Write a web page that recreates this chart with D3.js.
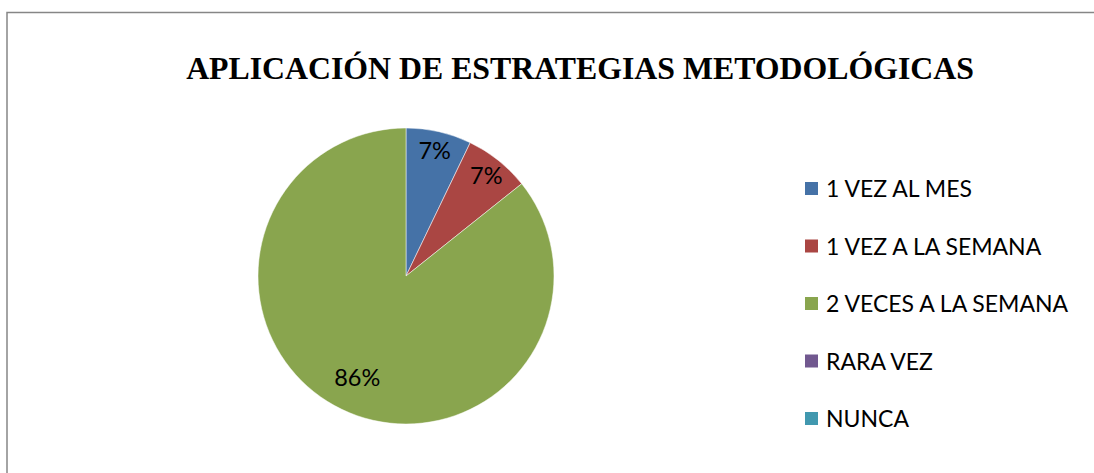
<!DOCTYPE html>
<html lang="es">
<head>
    <meta charset="UTF-8">
    <title>Aplicación de estrategias metodológicas</title>
    <script src="https://d3js.org/d3.v7.min.js"></script>
    <style>
        body { margin: 0; background: #fff; }
        svg { display: block; }
    </style>
</head>
<body>
    <script>
        // Data
        const categories = ["1 VEZ AL MES", "1 VEZ A LA SEMANA", "2 VECES A LA SEMANA", "RARA VEZ", "NUNCA"];
        const values = [1, 1, 12, 0, 0];
        const colors = ["#4572A7", "#AA4643", "#89A54E", "#71588F", "#4198AF"];
        const title = "APLICACIÓN DE ESTRATEGIAS METODOLÓGICAS";

        const W = 1094, H = 473;
        const svg = d3.select("body").append("svg")
            .attr("width", W)
            .attr("height", H);

        // chart frame (only top and left edges are visible in the crop)
        svg.append("path")
            .attr("d", `M7,${H} V12.5 H${W}`)
            .attr("fill", "none")
            .attr("stroke", "#868686")
            .attr("stroke-width", 1.5);

        // Title
        svg.append("text")
            .attr("x", 580)
            .attr("y", 79)
            .attr("text-anchor", "middle")
            .style("font-family", "'Liberation Serif', 'Times New Roman', serif")
            .style("font-weight", "bold")
            .style("font-size", "31.8px")
            .text(title);

        // Pie
        const cx = 406, cy = 276, r = 148;
        const total = d3.sum(values);
        const pie = d3.pie().sort(null).value(d => d.value);
        const arcs = pie(categories.map((c, i) => ({ name: c, value: values[i], color: colors[i] })));
        const arc = d3.arc().innerRadius(0).outerRadius(r);

        const g = svg.append("g").attr("transform", `translate(${cx},${cy})`);

        g.selectAll("path.slice")
            .data(arcs.filter(d => d.data.value > 0))
            .join("path")
            .attr("class", "slice")
            .attr("d", arc)
            .attr("fill", d => d.data.color)
            .attr("stroke", "#ffffff")
            .attr("stroke-width", 0.5);

        // Data labels: small slices near the rim, big slice further in
        g.selectAll("text.lbl")
            .data(arcs.filter(d => d.data.value > 0))
            .join("text")
            .attr("class", "lbl")
            .attr("transform", d => {
                const share = d.data.value / total;
                const lr = share < 0.2 ? r * 0.87 : r * 0.76;
                const a = (d.startAngle + d.endAngle) / 2;
                return `translate(${Math.sin(a) * lr},${-Math.cos(a) * lr})`;
            })
            .attr("text-anchor", "middle")
            .attr("dy", "0.36em")
            .style("font-family", "Lato, 'Open Sans', sans-serif")
            .style("font-size", "23.5px")
            .text(d => Math.round(d.data.value / total * 100) + "%");

        // Legend
        const legend = svg.append("g").attr("transform", "translate(805,182)");
        const rowH = 57.5;
        const items = legend.selectAll("g")
            .data(categories)
            .join("g")
            .attr("transform", (d, i) => `translate(0,${i * rowH})`);

        items.append("rect")
            .attr("width", 13)
            .attr("height", 13)
            .attr("fill", (d, i) => colors[i]);

        items.append("text")
            .attr("x", 21)
            .attr("y", 15)
            .style("font-family", "Lato, 'Open Sans', sans-serif")
            .style("font-size", "23px")
            .text(d => d);
    </script>
</body>
</html>
